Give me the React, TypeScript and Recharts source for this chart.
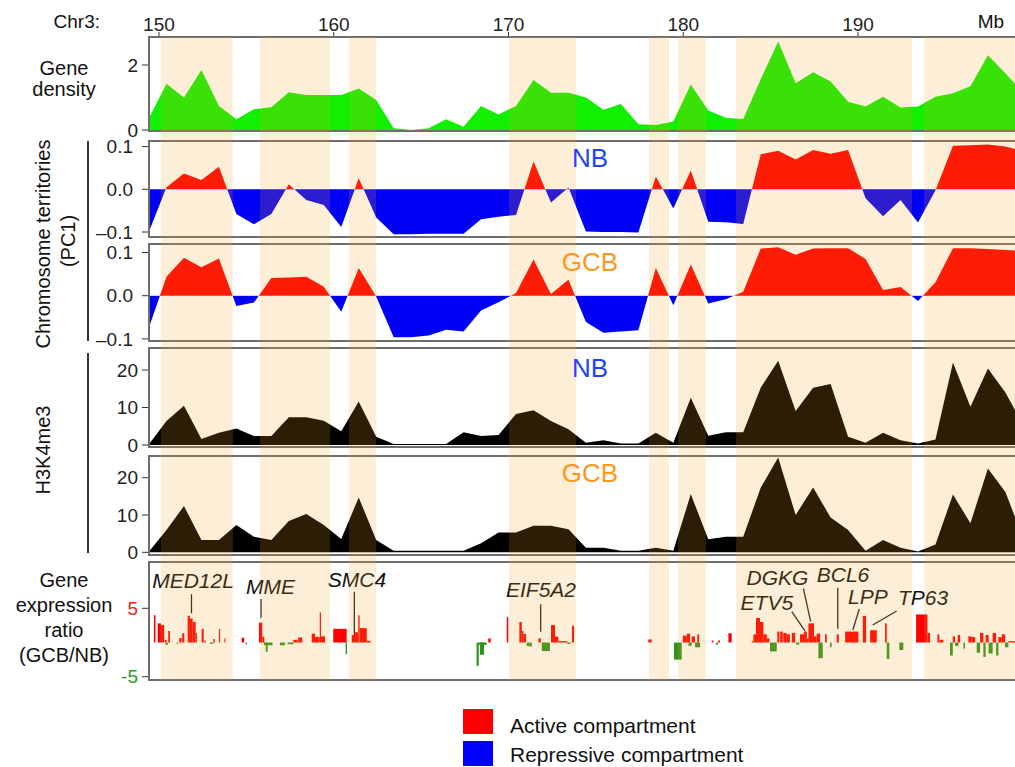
// Chr3 150-199 Mb multi-track view: gene density, PC1 compartments, H3K4me3 and expression ratio
import React from "react";
import {
  ComposedChart,
  Area,
  Line,
  Scatter,
  XAxis,
  YAxis,
  ReferenceArea,
  ReferenceLine,
} from "recharts";

const FONT = '"Liberation Sans", Arial, Helvetica, sans-serif';
const W = 1015;
const AXIS_W = 149;
const X_MIN = 149.43;
const X_MAX = 198.98;
const PAD = 14; // room above/below each track for edge tick labels

// 1 Mb bins (Mb)
const BINS = [
  149.43, 150.43, 151.43, 152.43, 153.43, 154.43, 155.43, 156.43, 157.43, 158.43,
  159.43, 160.43, 161.43, 162.43, 163.43, 164.43, 165.43, 166.43, 167.43, 168.43,
  169.43, 170.43, 171.43, 172.43, 173.43, 174.43, 175.43, 176.43, 177.43, 178.43,
  179.43, 180.43, 181.43, 182.43, 183.43, 184.43, 185.43, 186.43, 187.43, 188.43,
  189.43, 190.43, 191.43, 192.43, 193.43, 194.43, 195.43, 196.43, 197.43, 198.43,
  199.43,
];

const GENE_DENSITY = [
  0.37, 1.42, 1.0, 1.85, 0.74, 0.33, 0.64, 0.7, 1.16, 1.08,
  1.08, 1.08, 1.28, 0.92, 0.05, 0.0, 0.05, 0.33, 0.1, 0.74,
  0.48, 0.74, 1.54, 1.15, 1.15, 1.0, 0.62, 0.8, 0.18, 0.15,
  0.26, 1.4, 0.6, 0.38, 0.34, 1.56, 2.72, 1.44, 1.78, 1.49,
  0.87, 0.72, 1.02, 0.69, 0.72, 1.02, 1.13, 1.35, 2.3, 1.75,
  1.15,
];

const PC1_NB = [
  -0.099, 0.005, 0.037, 0.022, 0.053, -0.058, -0.082, -0.058, 0.012, -0.025,
  -0.037, -0.088, 0.026, -0.066, -0.105, -0.105, -0.104, -0.104, -0.104, -0.07,
  -0.064, -0.06, 0.065, -0.031, 0.004, -0.099, -0.1, -0.1, -0.101, 0.03,
  -0.045, 0.044, -0.076, -0.077, -0.081, 0.082, 0.09, 0.07, 0.092, 0.083,
  0.092, -0.021, -0.063, -0.025, -0.078, -0.002, 0.102, 0.103, 0.105, 0.1,
  0.09,
];

const PC1_GCB = [
  -0.073, 0.044, 0.088, 0.066, 0.086, -0.024, -0.016, 0.041, 0.042, 0.044,
  0.021, -0.037, 0.064, -0.002, -0.096, -0.096, -0.092, -0.079, -0.083, -0.034,
  -0.015, 0.006, 0.084, 0.004, 0.037, -0.061, -0.086, -0.083, -0.08, 0.064,
  -0.022, 0.072, -0.018, -0.008, 0.009, 0.109, 0.112, 0.095, 0.109, 0.11,
  0.11, 0.085, 0.013, 0.02, -0.012, 0.031, 0.11, 0.11, 0.108, 0.106,
  0.104,
];

const H3K4ME3_NB = [
  0.2, 6.4, 10.5, 1.6, 3.3, 4.4, 2.4, 2.4, 7.4, 7.4,
  6.5, 3.7, 11.6, 2.2, 0.3, 0.3, 0.3, 0.3, 3.4, 2.4,
  2.7, 8.3, 9.3, 6.4, 4.2, 0.6, 1.3, 0.4, 0.4, 3.3,
  0.6, 12.6, 2.5, 3.4, 3.4, 15.3, 22.5, 9.1, 15.3, 16.3,
  2.2, 0.6, 3.3, 1.3, 0.4, 1.5, 22.0, 10.2, 20.4, 14.0,
  5.5,
];

const H3K4ME3_GCB = [
  0.2, 6.0, 12.4, 3.3, 3.3, 7.3, 4.2, 3.3, 8.4, 10.3,
  7.3, 3.6, 14.7, 3.3, 0.4, 0.4, 0.4, 0.4, 0.4, 2.4,
  5.3, 5.3, 7.1, 7.1, 6.2, 1.25, 1.25, 0.4, 0.4, 1.25,
  0.4, 15.6, 3.5, 4.2, 4.2, 17.3, 25.4, 10.0, 17.4, 9.3,
  6.0, 0.45, 3.3, 1.25, 0.2, 2.1, 15.5, 7.8, 22.5, 16.2,
  4.0,
];

// active-compartment bands (Mb start, end)
const BANDS = [
  [150.11, 154.23], [155.78, 159.79], [160.87, 162.42], [170.03, 173.86],
  [178.04, 179.18], [179.7, 181.3], [183.02, 193.09], [193.78, 199.5],
];

// expression ratio bars: [start Mb, end Mb, log ratio]
const EXPR_BARS = [
  [149.37, 149.6, 0.85], [149.71, 149.8, 4.0], [149.93, 150.11, 2.8], [150.11, 150.3, 2.55],
  [150.34, 150.44, 0.4], [150.38, 150.5, -0.35], [150.53, 150.63, 1.7], [151.01, 151.1, -0.2],
  [151.16, 151.3, 0.65], [151.33, 151.45, 1.35], [151.64, 151.77, 3.9], [151.77, 151.93, 3.5],
  [151.93, 152.1, 3.0], [152.1, 152.17, 1.4], [152.44, 152.56, 2.0], [152.59, 152.67, 0.3],
  [152.92, 153.11, -0.2], [153.11, 153.2, 0.5], [153.43, 153.5, 2.0], [153.74, 153.8, 0.6],
  [154.73, 154.88, 0.7], [154.96, 155.04, -0.3], [155.72, 155.91, 2.9], [155.91, 156.03, 0.85],
  [156.0, 156.5, -0.4], [156.11, 156.22, -1.35], [156.92, 157.21, -0.4], [157.36, 157.69, -0.25],
  [157.69, 157.94, 0.4], [157.97, 158.2, 0.75], [158.74, 158.93, 1.3], [158.93, 159.2, 0.8],
  [159.2, 159.27, 4.4], [159.27, 159.5, 0.9], [159.97, 160.74, 2.0], [160.68, 160.76, -1.7],
  [161.03, 161.22, 1.1], [161.22, 161.4, 1.5], [161.4, 161.48, 4.0], [161.48, 161.89, 2.1],
  [161.89, 162.1, 0.25], [168.17, 168.3, -3.4], [168.3, 168.75, -0.35], [168.37, 168.6, -1.8],
  [168.84, 168.98, 0.6], [169.9, 169.99, 3.7], [170.62, 170.76, 3.0], [170.76, 170.85, 1.7],
  [170.85, 171.0, 1.25], [171.04, 171.19, -0.5], [171.19, 171.33, -0.6], [171.71, 171.85, 0.6],
  [171.9, 172.37, -1.25], [172.43, 172.66, 2.55], [172.66, 172.85, 0.85], [172.85, 173.36, 0.2],
  [173.36, 173.55, -0.2], [173.63, 173.75, 2.45], [178.0, 178.19, 0.45], [179.47, 179.91, -2.5],
  [179.97, 180.2, 1.0], [180.2, 180.39, 1.3], [180.3, 180.48, -0.5], [180.48, 180.67, 0.9],
  [180.67, 180.96, -0.7], [180.8, 180.9, 1.2], [181.63, 181.72, 0.3], [181.87, 181.99, -0.3],
  [181.99, 182.1, 0.3], [182.58, 182.77, 1.35], [183.92, 184.01, 0.2], [184.01, 184.16, 1.2],
  [184.16, 184.39, 3.6], [184.39, 184.58, 3.0], [184.58, 184.78, 1.2], [184.78, 184.93, 0.6],
  [184.96, 185.35, -1.3], [185.38, 185.5, 1.6], [185.54, 185.69, 1.6], [185.72, 185.92, 1.4],
  [185.92, 186.1, 1.2], [186.21, 186.4, 1.4], [186.45, 186.64, -0.3], [186.68, 186.91, 1.2],
  [186.91, 187.07, 1.6], [187.07, 187.16, 0.6], [187.16, 187.48, 2.8], [187.48, 187.63, 0.9],
  [187.63, 187.83, 1.3], [187.73, 187.98, -2.3], [188.11, 188.21, 1.2], [188.4, 188.49, -0.7],
  [188.78, 188.9, 1.2], [189.26, 190.02, 1.6], [190.27, 190.46, 3.9], [190.69, 191.07, 1.8],
  [191.54, 191.64, 2.8], [191.64, 191.79, -2.4], [192.36, 192.59, -1.1], [193.32, 193.97, 4.1],
  [193.97, 194.12, 1.4], [194.54, 194.65, 1.2], [194.65, 194.88, 0.4], [195.26, 195.42, -1.9],
  [195.42, 195.55, 0.9], [195.55, 195.74, -0.5], [195.7, 195.84, 1.1], [196.03, 196.12, -0.9],
  [196.31, 196.5, 0.9], [196.5, 196.7, 0.8], [196.79, 196.98, -1.5], [196.98, 197.17, 1.4],
  [197.17, 197.3, -2.1], [197.3, 197.47, 1.1], [197.47, 197.7, -1.6], [197.7, 197.9, 1.4],
  [197.9, 198.03, -1.9], [198.03, 198.22, 0.8], [198.22, 198.41, 1.2], [198.41, 198.6, -0.7],
  [198.6, 198.98, 0.2],
];

// gene annotations: label centre (x, y) and leader segment (x1, y1) -> (x2, y2)
const GENE_LABELS = [
  { name: "MED12L", x: 151.95, y: 9.06, x1: 151.86, y1: 7.05, x2: 151.86, y2: 4.27 },
  { name: "MME", x: 156.38, y: 8.26, x1: 155.84, y1: 6.36, x2: 155.84, y2: 3.63 },
  { name: "SMC4", x: 161.33, y: 9.28, x1: 161.18, y1: 7.43, x2: 161.18, y2: 1.1 },
  { name: "EIF5A2", x: 171.86, y: 7.68, x1: 171.84, y1: 5.58, x2: 171.84, y2: 1.58 },
  { name: "DGKG", x: 185.39, y: 9.5, x1: 186.87, y1: 7.92, x2: 187.29, y2: 3.04 },
  { name: "BCL6", x: 189.14, y: 10.01, x1: 188.84, y1: 8.01, x2: 188.84, y2: 1.97 },
  { name: "ETV5", x: 184.78, y: 5.82, x1: 186.21, y1: 4.5, x2: 186.97, y2: 1.68 },
  { name: "LPP", x: 190.56, y: 6.75, x1: 190.07, y1: 4.9, x2: 189.7, y2: 1.83 },
  { name: "TP63", x: 193.72, y: 6.58, x1: 192.21, y1: 4.6, x2: 190.84, y2: 2.56 },
];

const rows = BINS.map((x, i) => ({
  x,
  density: GENE_DENSITY[i],
  pcNB: PC1_NB[i],
  pcGCB: PC1_GCB[i],
  h3NB: H3K4ME3_NB[i],
  h3GCB: H3K4ME3_GCB[i],
}));

const RED = "#ff0000";
const BLUE = "#0000f5";
const tickStyle = { fontSize: 19, fill: "#222", fontFamily: FONT };

function zeroOffset(vals: number[]) {
  const max = Math.max(...vals);
  const min = Math.min(...vals);
  return max / (max - min);
}

function xAxis(key = "x") {
  return (
    <XAxis
      key={key}
      dataKey="x"
      type="number"
      domain={[X_MIN, X_MAX]}
      allowDataOverflow
      hide
    />
  );
}

function yAxis(domain: number[], ticks: number[], margin: number, fmt?: (v: number) => string, tick?: any) {
  return (
    <YAxis
      key="y"
      width={AXIS_W}
      type="number"
      domain={domain}
      allowDataOverflow
      ticks={ticks}
      interval={0}
      tickSize={7}
      tickMargin={margin}
      axisLine={false}
      tickLine={{ stroke: "#333" }}
      tick={tick ?? tickStyle}
      tickFormatter={fmt}
    />
  );
}

const pcFmt = (v: number) => (v < 0 ? "\u2013" + Math.abs(v).toFixed(1) : v.toFixed(1));

function ExprTick(props: any) {
  const { x, y, payload } = props;
  return (
    <text
      x={x}
      y={y}
      dy="0.355em"
      textAnchor="end"
      fontSize={19}
      fontFamily={FONT}
      fill={payload.value > 0 ? "#e8241c" : "#2f9a2f"}
    >
      {payload.value}
    </text>
  );
}

function GeneText(props: any) {
  const { cx, cy, payload } = props;
  return (
    <text
      x={cx}
      y={cy}
      textAnchor="middle"
      dominantBaseline="central"
      fontSize={21}
      fontStyle="italic"
      fontFamily={FONT}
      fill="#111"
    >
      {payload.name}
    </text>
  );
}

const trackMargin = { top: PAD, right: 0, bottom: PAD, left: 0 };

function Abs({ top, children }: { top: number; children: React.ReactNode }) {
  return <div style={{ position: "absolute", left: 0, top }}>{children}</div>;
}

function Txt({
  x, y, children, size = 20, color = "#111", anchor = "middle", rotate = false, italic = false,
}: any) {
  const tx = anchor === "middle" ? "-50%" : anchor === "end" ? "-100%" : "0";
  return (
    <div
      style={{
        position: "absolute",
        left: x,
        top: y,
        transform: `translate(${tx}, -50%)${rotate ? " rotate(-90deg)" : ""}`,
        transformOrigin: "center",
        fontSize: size,
        lineHeight: 1,
        color,
        fontFamily: FONT,
        fontStyle: italic ? "italic" : "normal",
        whiteSpace: "nowrap",
      }}
    >
      {children}
    </div>
  );
}

const PANELS = [
  { top: 37, height: 94 },
  { top: 141, height: 96 },
  { top: 244, height: 97 },
  { top: 348, height: 99 },
  { top: 456, height: 99 },
  { top: 562, height: 118 },
];

export default function App() {
  const offNB = zeroOffset(PC1_NB);
  const offGCB = zeroOffset(PC1_GCB);
  return (
    <div
      style={{
        position: "absolute",
        left: 0,
        top: 0,
        width: W,
        height: 767,
        overflow: "hidden",
        background: "#fff",
        fontFamily: FONT,
      }}
    >
      {/* gene density with top axis */}
      <Abs top={0}>
        <ComposedChart
          width={W}
          height={131 + PAD}
          data={rows}
          margin={{ top: 0, right: 0, bottom: PAD, left: 0 }}
        >
          <XAxis
            dataKey="x"
            type="number"
            domain={[X_MIN, X_MAX]}
            allowDataOverflow
            orientation="top"
            height={37}
            ticks={[150, 160, 170, 180, 190]}
            interval={0}
            tickSize={5}
            tickMargin={1}
            axisLine={false}
            tickLine={{ stroke: "#333" }}
            tick={tickStyle}
          />
          {yAxis([-0.031, 2.862], [0, 2], 4)}
          <Area
            dataKey="density"
            type="linear"
            fill="#10f000"
            fillOpacity={1}
            stroke="none"
            baseValue={0}
            isAnimationActive={false}
          />
        </ComposedChart>
      </Abs>

      {/* PC1 NB */}
      <Abs top={141 - PAD}>
        <ComposedChart width={W} height={96 + 2 * PAD} data={rows} margin={trackMargin}>
          <defs>
            <linearGradient id="gradNB" x1="0" y1="0" x2="0" y2="1">
              <stop offset={offNB} stopColor={RED} />
              <stop offset={offNB} stopColor={BLUE} />
            </linearGradient>
          </defs>
          {xAxis()}
          {yAxis([-0.1117, 0.1131], [-0.1, 0, 0.1], 9, pcFmt)}
          <Area
            dataKey="pcNB"
            type="linear"
            fill="url(#gradNB)"
            fillOpacity={1}
            stroke="none"
            baseValue={0}
            isAnimationActive={false}
          />
        </ComposedChart>
      </Abs>

      {/* PC1 GCB */}
      <Abs top={244 - PAD}>
        <ComposedChart width={W} height={97 + 2 * PAD} data={rows} margin={trackMargin}>
          <defs>
            <linearGradient id="gradGCB" x1="0" y1="0" x2="0" y2="1">
              <stop offset={offGCB} stopColor={RED} />
              <stop offset={offGCB} stopColor={BLUE} />
            </linearGradient>
          </defs>
          {xAxis()}
          {yAxis([-0.1049, 0.1197], [-0.1, 0, 0.1], 9, pcFmt)}
          <Area
            dataKey="pcGCB"
            type="linear"
            fill="url(#gradGCB)"
            fillOpacity={1}
            stroke="none"
            baseValue={0}
            isAnimationActive={false}
          />
        </ComposedChart>
      </Abs>

      {/* H3K4me3 NB */}
      <Abs top={348 - PAD}>
        <ComposedChart width={W} height={99 + 2 * PAD} data={rows} margin={trackMargin}>
          {xAxis()}
          {yAxis([-0.53, 25.87], [0, 10, 20], 4)}
          <Area
            dataKey="h3NB"
            type="linear"
            fill="#000"
            fillOpacity={1}
            stroke="none"
            baseValue={0}
            isAnimationActive={false}
          />
        </ComposedChart>
      </Abs>

      {/* H3K4me3 GCB */}
      <Abs top={456 - PAD}>
        <ComposedChart width={W} height={99 + 2 * PAD} data={rows} margin={trackMargin}>
          {xAxis()}
          {yAxis([-0.72, 25.82], [0, 10, 20], 4)}
          <Area
            dataKey="h3GCB"
            type="linear"
            fill="#000"
            fillOpacity={1}
            stroke="none"
            baseValue={0}
            isAnimationActive={false}
          />
        </ComposedChart>
      </Abs>

      {/* gene expression ratio */}
      <Abs top={562 - PAD}>
        <ComposedChart width={W} height={118 + 2 * PAD} data={rows} margin={trackMargin}>
          {xAxis()}
          {yAxis([-5.48, 11.77], [-5, 5], 4, undefined, <ExprTick />)}
          {EXPR_BARS.map(([a, b, v], i) => (
            <ReferenceArea
              key={"b" + i}
              x1={a}
              x2={Math.min(b, X_MAX)}
              y1={Math.min(0, v)}
              y2={Math.max(0, v)}
              fill={v > 0 ? RED : "#2f9420"}
              fillOpacity={1}
              stroke="none"
            />
          ))}
          {GENE_LABELS.map((g) => (
            <ReferenceLine
              key={"l" + g.name}
              segment={[
                { x: g.x1, y: g.y1 },
                { x: g.x2, y: g.y2 },
              ]}
              stroke="#222"
              strokeWidth={1.3}
              ifOverflow="visible"
            />
          ))}
          <Scatter
            data={GENE_LABELS}
            dataKey="y"
            shape={<GeneText />}
            isAnimationActive={false}
          />
        </ComposedChart>
      </Abs>

      {/* panel frames */}
      {PANELS.map((p, i) => (
        <div
          key={i}
          style={{
            position: "absolute",
            left: AXIS_W - 1,
            top: p.top - 1,
            width: 900,
            height: p.height + 2,
            border: "2px solid #6e6e6e",
            boxSizing: "border-box",
          }}
        />
      ))}

      {/* compartment band overlay */}
      <Abs top={37}>
        <ComposedChart
          width={W}
          height={643}
          data={rows}
          margin={{ top: 0, right: 0, bottom: 0, left: AXIS_W }}
        >
          {xAxis()}
          <YAxis hide domain={[0, 1]} allowDataOverflow />
          <Line dataKey="density" stroke="none" dot={false} isAnimationActive={false} />
          {BANDS.map(([a, b], i) => (
            <ReferenceArea
              key={i}
              x1={a}
              x2={Math.min(b, X_MAX)}
              y1={0}
              y2={1}
              fill="rgb(242,158,40)"
              fillOpacity={0.18}
              stroke="none"
            />
          ))}
        </ComposedChart>
      </Abs>

      {/* axis captions */}
      <Txt x={100} y={21} anchor="end" size={19}>Chr3:</Txt>
      <Txt x={991} y={21} size={19}>Mb</Txt>

      <Txt x={64} y={68}>Gene</Txt>
      <Txt x={64} y={89}>density</Txt>

      <Txt x={43} y={244} rotate>Chromosome territories</Txt>
      <Txt x={68} y={241} rotate>(PC1)</Txt>
      <div style={{ position: "absolute", left: 87, top: 141, width: 2, height: 200, background: "#333" }} />

      <Txt x={43} y={450} rotate>H3K4me3</Txt>
      <div style={{ position: "absolute", left: 87, top: 353, width: 2, height: 200, background: "#333" }} />

      <Txt x={64} y={580}>Gene</Txt>
      <Txt x={64} y={605}>expression</Txt>
      <Txt x={64} y={630}>ratio</Txt>
      <Txt x={64} y={655}>(GCB/NB)</Txt>

      <Txt x={590} y={158} size={26} color="#2444f2">NB</Txt>
      <Txt x={590} y={262} size={26} color="#ff961c">GCB</Txt>
      <Txt x={590} y={368} size={26} color="#2444f2">NB</Txt>
      <Txt x={590} y={473} size={26} color="#ff961c">GCB</Txt>

      {/* legend */}
      <div style={{ position: "absolute", left: 463, top: 709, width: 30, height: 25, background: "#ff0000" }} />
      <div style={{ position: "absolute", left: 463, top: 741, width: 30, height: 25, background: "#0000ff" }} />
      <Txt x={510} y={725} anchor="start" size={21}>Active compartment</Txt>
      <Txt x={510} y={754} anchor="start" size={21}>Repressive compartment</Txt>
    </div>
  );
}
